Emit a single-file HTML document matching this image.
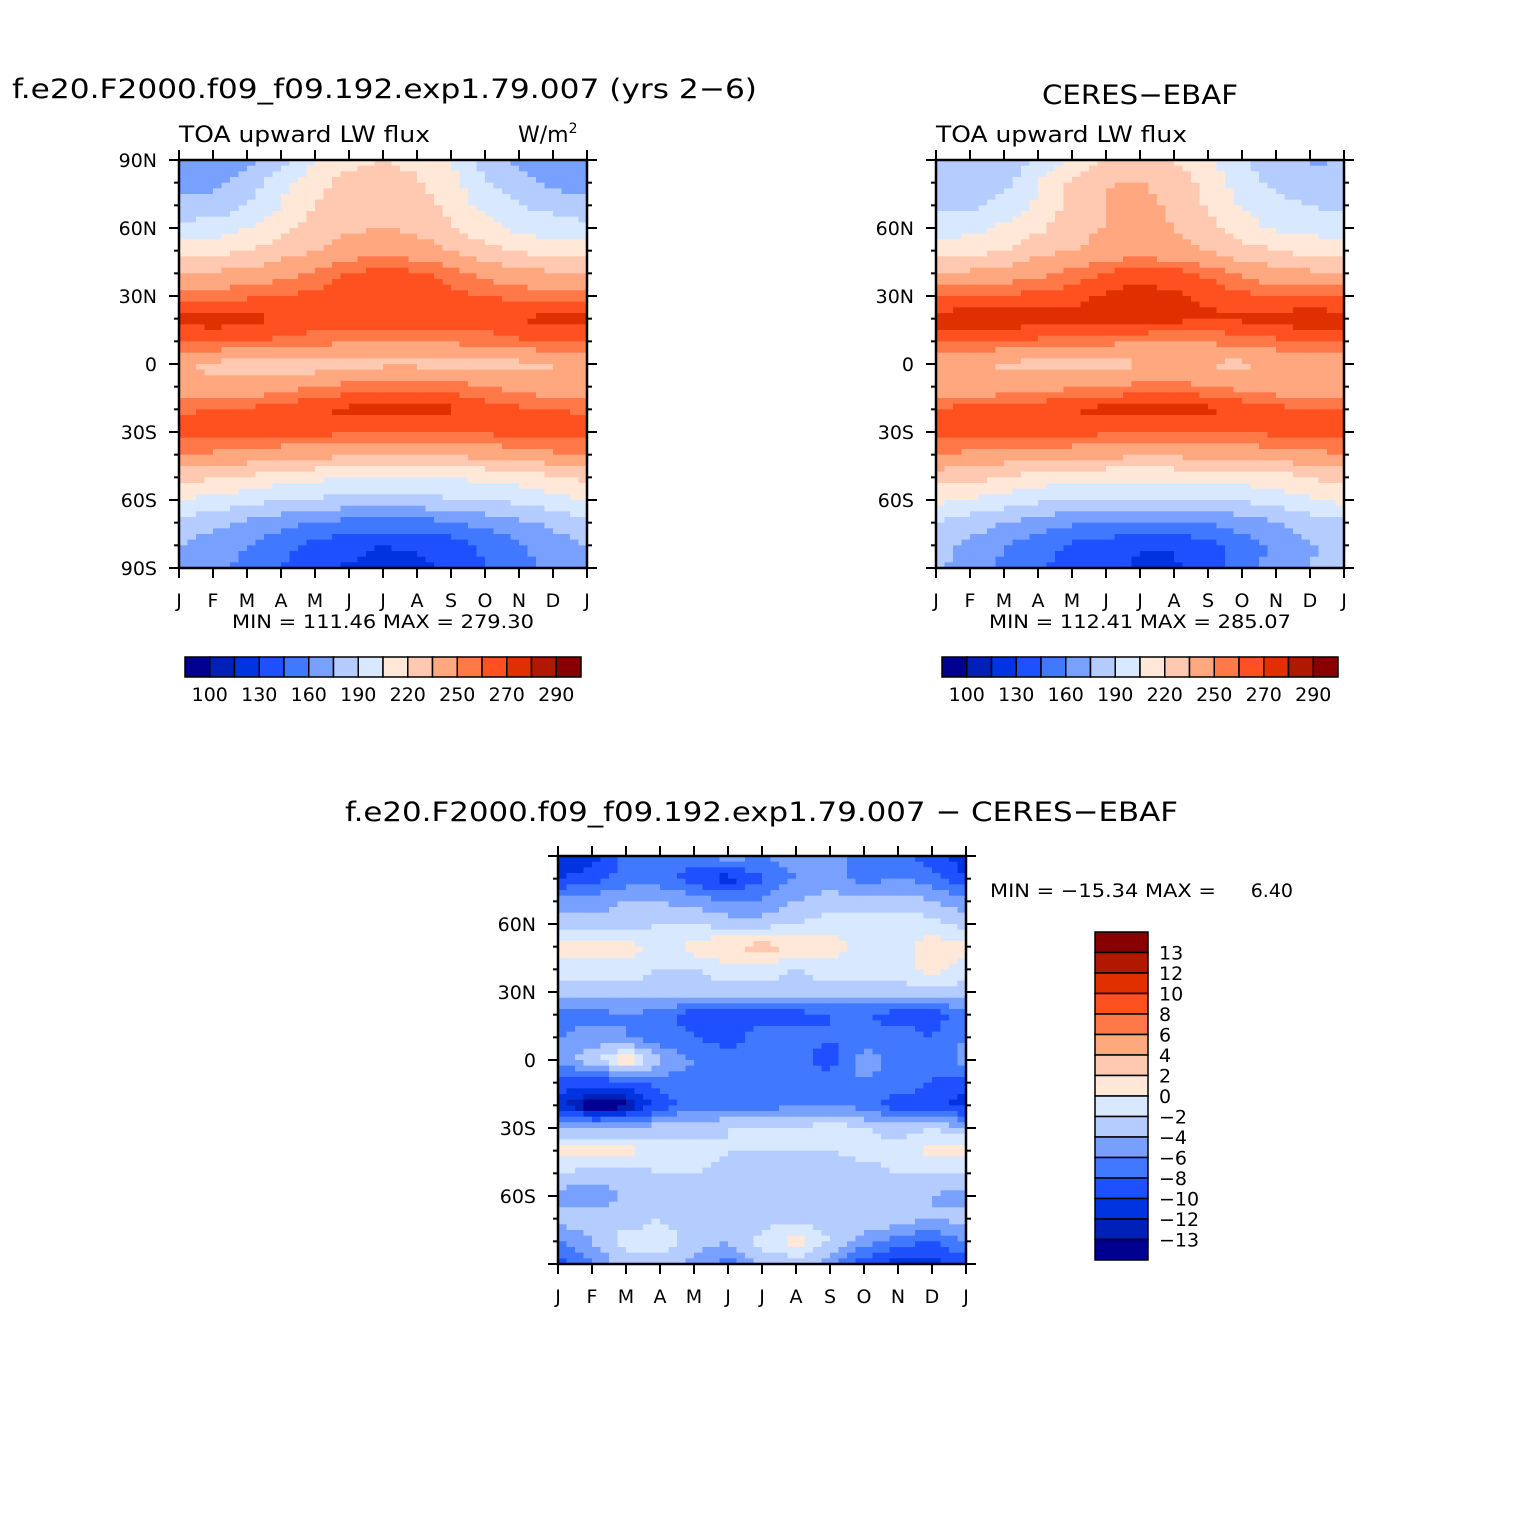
<!DOCTYPE html>
<html><head><meta charset="utf-8">
<style>
body{margin:0;background:#fff;}
svg text{font-family:"DejaVu Sans","Liberation Sans",sans-serif;fill:#000;}
</style></head>
<body>
<svg id="fig" xmlns="http://www.w3.org/2000/svg" width="1524" height="1524" viewBox="0 0 1524 1524">
<rect width="1524" height="1524" fill="#fff"/>
<g id="layer"></g>
<text x="12" y="98" font-size="27" textLength="745" lengthAdjust="spacingAndGlyphs">f.e20.F2000.f09_f09.192.exp1.79.007 (yrs 2−6)</text>
<text x="179" y="142" font-size="22" textLength="251" lengthAdjust="spacingAndGlyphs">TOA upward LW flux</text>
<text x="518" y="142" font-size="22">W/m<tspan dy="-9" font-size="14">2</tspan></text>
<text x="1042" y="104" font-size="27" textLength="196" lengthAdjust="spacingAndGlyphs">CERES−EBAF</text>
<text x="936" y="142" font-size="22" textLength="251" lengthAdjust="spacingAndGlyphs">TOA upward LW flux</text>
<text x="232" y="628" font-size="19" textLength="302" lengthAdjust="spacingAndGlyphs">MIN = 111.46 MAX = 279.30</text>
<text x="989" y="628" font-size="19" textLength="302" lengthAdjust="spacingAndGlyphs">MIN = 112.41 MAX = 285.07</text>
<text x="345" y="821" font-size="27" textLength="833" lengthAdjust="spacingAndGlyphs">f.e20.F2000.f09_f09.192.exp1.79.007 − CERES−EBAF</text>
<text x="990" y="897" font-size="19" textLength="226" lengthAdjust="spacingAndGlyphs">MIN = −15.34 MAX =</text>
<text x="1293" y="897" font-size="19" text-anchor="end">6.40</text>
</svg>
<script>
const months = ["J","F","M","A","M","J","J","A","S","O","N","D","J"];
const lats = [90,80,70,60,50,40,30,20,10,0,-10,-20,-30,-40,-50,-60,-70,-80,-90];
const latTicks = [90,60,30,0,-30,-60,-90];
const latTickLabels = ["90N","60N","30N","0","30S","60S","90S"];
const fluxLevels = [100,115,130,145,160,175,190,205,220,235,250,260,270,280,290];
const fluxLabels = ["100","130","160","190","220","250","270","290"];
const diffLevels = [-13,-12,-10,-8,-6,-4,-2,0,2,4,6,8,10,12,13];
const diffLabels = ["13","12","10","8","6","4","2","0","−2","−4","−6","−8","−10","−12","−13"];
const palette = ["#000090","#0020b8","#0034e0","#1e50ff","#4078ff","#78a0ff","#b4ccff","#d8e8ff","#ffe8d8","#ffc8b0","#ffa880","#ff7848","#ff5020","#e03000","#b01800","#880000"];
const modelFlux = [
[160,166,170,185,205,215,220,215,205,185,170,162,160],
[170,170,180,200,215,225,228,222,210,190,180,170,170],
[180,180,190,205,220,230,232,228,215,200,190,185,180],
[195,197,205,215,225,233,235,232,222,210,200,197,195],
[212,215,220,228,235,242,245,242,235,225,218,214,212],
[235,237,240,245,252,260,265,262,255,245,240,237,235],
[255,256,258,260,263,268,270,268,264,260,257,256,255],
[274,275,274,270,266,266,266,266,266,267,270,274,274],
[262,262,261,258,255,252,252,252,252,255,258,262,262],
[236,232,228,226,226,228,232,232,230,230,232,234,236],
[240,238,240,245,250,255,258,258,255,250,245,242,240],
[258,260,262,265,270,272,273,273,272,265,262,260,258],
[266,266,264,263,264,262,260,260,260,262,265,266,266],
[250,248,245,242,240,238,236,236,238,240,244,248,250],
[225,222,218,212,208,205,205,205,206,208,212,218,225],
[205,200,195,190,188,186,186,186,188,190,194,200,205],
[185,180,172,165,160,155,155,155,158,165,172,178,185],
[175,168,160,150,140,135,130,132,138,148,158,168,175],
[170,165,155,145,135,128,124,126,135,145,155,165,170]];
const ceresFlux = [
[175,178,178,190,210,220,224,220,210,192,178,174,175],
[180,180,186,205,222,234,236,228,215,196,186,178,180],
[186,186,194,208,225,236,240,232,218,204,194,190,186],
[198,200,208,217,228,236,238,235,224,212,202,200,198],
[212,214,220,230,235,241,243,240,234,226,220,214,212],
[237,238,242,247,254,261,266,264,257,247,241,238,237],
[258,259,261,263,266,272,275,272,268,263,260,259,258],
[276,278,277,276,273,274,274,273,272,272,275,278,276],
[260,259,260,258,255,253,252,251,252,254,258,262,260],
[242,240,232,231,229,230,234,233,233,232,237,242,242],
[240,238,240,244,248,250,253,254,251,245,241,239,240],
[260,266,268,268,270,274,276,275,273,268,264,260,260],
[266,266,264,263,265,262,260,260,259,260,263,264,266],
[249,247,244,243,241,240,238,238,240,241,245,247,249],
[227,225,221,214,210,208,208,209,210,211,214,220,227],
[209,204,198,193,191,189,189,188,190,192,197,203,209],
[188,183,175,167,163,159,158,158,161,167,175,182,188],
[180,171,161,151,143,138,131,131,140,152,164,174,180],
[178,169,157,147,139,134,127,128,139,153,165,175,178]];
const diffFlux = [
[-12,-11,-7,-7,-7,-5,-6,-5,-5,-7,-7,-9,-11],
[-10,-9,-7,-7,-9,-11,-8,-6,-5,-7,-6,-7,-10],
[-5,-5,-4,-4,-5,-6,-6,-4,-3,-3,-3,-4,-5],
[-3,-3,-3,-2,-2,-3,-3,-2,-1,-1,-1,-1,-3],
[1,1,1,-1,1,2,3,2,1,-1,-1,1,1],
[-1,-1,-1,-2,-2,-1,-1,-2,-1,-1,-1,1,-1],
[-3,-3,-3,-3,-3,-3,-3,-3,-3,-3,-3,-3,-3],
[-7,-7,-6,-7,-9,-10,-9,-9,-8,-8,-9,-9,-7],
[-6,-5,-6,-7,-8,-9,-7,-7,-8,-7,-7,-8,-6],
[-5,-3,2,-4,-6,-7,-8,-7,-9,-5,-7,-8,-5],
[-9,-9,-9,-7,-7,-6,-6,-7,-7,-6,-7,-8,-9],
[-11,-15,-14,-9,-7,-7,-7,-6,-6,-7,-9,-9,-11],
[-4,-4,-4,-3,-3,-2,-2,-2,-1,-2,-3,-2,-4],
[1,1,1,-1,-1,-2,-2,-2,-2,-1,-1,1,1],
[-2,-3,-3,-2,-2,-3,-3,-4,-4,-3,-2,-2,-2],
[-5,-5,-4,-4,-4,-4,-4,-3,-3,-3,-4,-4,-5],
[-3,-3,-3,-2,-3,-4,-3,-3,-3,-2,-3,-4,-3],
[-6,-4,-1,-1,-3,-4,-1,1,-2,-5,-7,-8,-6],
[-9,-6,-3,-3,-5,-7,-4,-3,-5,-9,-11,-11,-9]];

const NS="http://www.w3.org/2000/svg";
const layer=document.getElementById('layer');
function mk(tag,attrs,parent){const e=document.createElementNS(NS,tag);for(const k in attrs)e.setAttribute(k,attrs[k]);(parent||layer).appendChild(e);return e;}
function colorFor(v,levels){let i=0;while(i<levels.length&&v>=levels[i])i++;return palette[i];}

function panel(x0,y0,data,levels,name,showTopLabels){
  const W=408,H=408;
  const xs=m=>x0+m*W/12;
  const ys=lat=>y0+(90-lat)*H/180;
  const g=mk('g',{});
  
  
  const sub=4;
  for(let r=0;r<lats.length-1;r++){
    for(let c=0;c<months.length-1;c++){
      for(let a=0;a<sub;a++){for(let b=0;b<sub;b++){
        const ty=(a+0.5)/sub,tx=(b+0.5)/sub;
        const v=data[r][c]*(1-tx)*(1-ty)+data[r][c+1]*tx*(1-ty)+data[r+1][c]*(1-tx)*ty+data[r+1][c+1]*tx*ty;
        const xa=xs(c+b/sub),xb=xs(c+(b+1)/sub);
        const ya=ys(lats[r]-10*a/sub),yb=ys(lats[r]-10*(a+1)/sub);
        const cell=mk('rect',{x:xa.toFixed(2),y:ya.toFixed(2),width:(xb-xa+0.6).toFixed(2),height:(yb-ya+0.6).toFixed(2),fill:colorFor(v,levels)},g);
        
        
      }}
    }
  }
  const fr=mk('rect',{x:x0,y:y0,width:W,height:H,fill:'none',stroke:'#000','stroke-width':2.5},g);
  
  
  months.forEach((m,i)=>{
    const x=xs(i);
    mk('line',{x1:x,y1:y0+H,x2:x,y2:y0+H+10,stroke:'#000','stroke-width':2},g);
    mk('line',{x1:x,y1:y0,x2:x,y2:y0-10,stroke:'#000','stroke-width':2},g);
    const t=mk('text',{x:x,y:y0+H+39,'font-size':19,'text-anchor':'middle'},g);
    t.textContent=m;
    
    
  });
  for(let lat=-90;lat<=90;lat+=10){
    const y=ys(lat);const major=lat%30===0;const len=major?10:5;
    mk('line',{x1:x0,y1:y,x2:x0-len,y2:y,stroke:'#000','stroke-width':2},g);
    mk('line',{x1:x0+W,y1:y,x2:x0+W+len,y2:y,stroke:'#000','stroke-width':2},g);
  }
  latTicks.forEach((lat,i)=>{
    if(!showTopLabels&&(lat===90||lat===-90))return;
    const t=mk('text',{x:x0-22,y:ys(lat)+7,'font-size':19,'text-anchor':'end'},g);
    t.textContent=latTickLabels[i];
    
    
  });
}
function hbar(x0,y0,name){
  const g=mk('g',{});
  
  
  const bw=396/16;
  palette.forEach((c,i)=>{const r=mk('rect',{x:x0+i*bw,y:y0,width:bw,height:20,fill:c,stroke:'#000','stroke-width':1.5},g);
    
    });
  fluxLabels.forEach((l,i)=>{const t=mk('text',{x:x0+(2*i+1)*bw,y:y0+44,'font-size':19,'text-anchor':'middle'},g);t.textContent=l;
    
    });
}
function vbar(x0,y0){
  const g=mk('g',{});
  
  
  const bh=328/16;
  palette.slice().reverse().forEach((c,i)=>{const r=mk('rect',{x:x0,y:y0+i*bh,width:53,height:bh,fill:c,stroke:'#000','stroke-width':1.5},g);
    
    });
  diffLabels.forEach((l,i)=>{const t=mk('text',{x:x0+64,y:y0+(i+1)*bh+7,'font-size':19},g);t.textContent=l;
    
    });
}
panel(179,160,modelFlux,fluxLevels,'model',true);
panel(936,160,ceresFlux,fluxLevels,'ceres',false);
panel(558,856,diffFlux,diffLevels,'difference',false);
hbar(185,657,'model-colorbar');
hbar(942,657,'ceres-colorbar');
vbar(1095,932);
</script>
</body></html>
